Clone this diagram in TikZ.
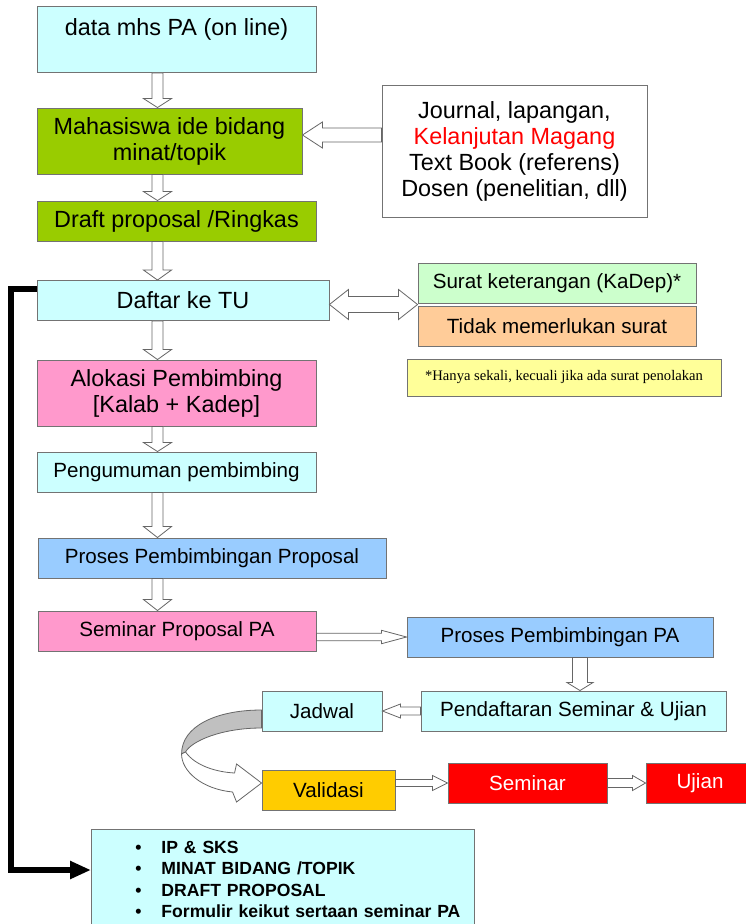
\documentclass[tikz,border=0pt]{standalone}
\usepackage{fontspec}
\setmainfont{Liberation Sans}
\newfontfamily\notefont{Liberation Serif}
\usetikzlibrary{calc,arrows.meta}

\definecolor{cyanmuda}{HTML}{CCFFFF}
\definecolor{hijau}{HTML}{99CC00}
\definecolor{merahmuda}{HTML}{FF99CC}
\definecolor{birumuda}{HTML}{99CCFF}
\definecolor{hijaumuda}{HTML}{CCFFCC}
\definecolor{oranyemuda}{HTML}{FFCC99}
\definecolor{kuningmuda}{HTML}{FFFF99}
\definecolor{emas}{HTML}{FFCC00}
\definecolor{abuabu}{HTML}{C0C0C0}

\newcommand{\butir}[1]{\hspace*{44pt}\makebox[26pt][l]{\textbullet}#1}

\newcommand{\panahv}[5]{%
  \draw[blok] let \p1=(#1), \p2=(#2) in
    (\x1-#3,\y1) -- (\x1-#3,\y2+#5) -- (\x1-#4,\y2+#5) -- (\x1,\y2)
    -- (\x1+#4,\y2+#5) -- (\x1+#3,\y2+#5) -- (\x1+#3,\y1) -- cycle;}

\newcommand{\panahh}[5]{%
  \draw[blok] let \p1=(#1), \p2=(#2) in
    (\x1,\y1-#3) -- ({\x2-(#5)},\y1-#3) -- ({\x2-(#5)},\y1-#4) -- (\x2,\y1)
    -- ({\x2-(#5)},\y1+#4) -- ({\x2-(#5)},\y1+#3) -- (\x1,\y1+#3) -- cycle;}

\begin{document}
\begin{tikzpicture}[x=1pt, y=-1pt,
    kotak/.style={draw=black!55, line width=0.9pt, inner sep=0pt, minimum height=40pt, align=center},
    besar/.style={font=\fontsize{23.4}{26}\selectfont},
    sedang/.style={font=\fontsize{20.6}{23}\selectfont},
    blok/.style={draw=black!60, fill=white, line width=0.8pt, line join=miter},
    jalur/.style={line width=5.5pt, -{Triangle[length=21pt,width=17pt]}}]
    \useasboundingbox (0,0) rectangle (746,924);

    \node[kotak, besar, fill=cyanmuda, minimum width=279pt, text height=29pt, text depth=37pt, anchor=north] (data) at (176.5,6) {data mhs PA (on line)};
    \node[kotak, besar, fill=hijau, minimum width=265pt, minimum height=66pt] (mhs) at (169.5,141) {Mahasiswa ide bidang\\minat/topik};
    \node[kotak, besar, fill=hijau, minimum width=279pt] (draft) at (176.5,221) {Draft proposal /Ringkas};
    \node[kotak, besar, fill=cyanmuda, minimum width=292pt] (daftar) at (183,300.5) {Daftar ke TU};
    \node[kotak, besar, fill=merahmuda, minimum width=279pt, minimum height=66pt] (alokasi) at (176.5,393) {Alokasi Pembimbing\\{[}Kalab + Kadep]};
    \node[kotak, sedang, fill=cyanmuda, minimum width=279pt] (umum) at (176.5,472) {Pengumuman pembimbing};
    \node[kotak, sedang, fill=birumuda, minimum width=348pt] (prosesprop) at (212,558) {Proses Pembimbingan Proposal};
    \node[kotak, sedang, fill=merahmuda, minimum width=278pt] (semprop) at (177,631) {Seminar Proposal PA};

    \node[kotak, besar, fill=white, minimum width=265pt, minimum height=132pt] (sumber) at (514.5,151) {Journal, lapangan,\\\textcolor{red}{Kelanjutan Magang}\\Text Book (referens)\\Dosen (penelitian, dll)};
    \node[kotak, sedang, fill=hijaumuda, minimum width=278pt] (surat) at (557,283) {Surat keterangan (KaDep)*};
    \node[kotak, sedang, fill=oranyemuda, minimum width=278pt] (tidak) at (557,326) {Tidak memerlukan surat};
    \node[kotak, fill=kuningmuda, minimum width=314pt, minimum height=37pt, font=\notefont\fontsize{14.6}{17}\selectfont] (catatan) at (564,377.5) {*Hanya sekali, kecuali jika ada surat penolakan};
    \node[kotak, sedang, fill=birumuda, minimum width=306pt] (prosespa) at (560,637) {Proses Pembimbingan PA};
    \node[kotak, sedang, fill=cyanmuda, minimum width=305pt] (daftarujian) at (573.5,711) {Pendaftaran Seminar \& Ujian};
    \node[kotak, sedang, fill=cyanmuda, minimum width=120pt] (jadwal) at (322,711) {Jadwal};
    \node[kotak, sedang, fill=emas, minimum width=133pt] (validasi) at (328.5,790) {Validasi};
    \node[kotak, sedang, fill=red, text=white, minimum width=159pt] (seminar) at (527.5,783) {Seminar};
    \node[kotak, sedang, fill=red, text=white, minimum width=108pt] (ujian) at (700,783) {Ujian};

    \node[kotak, fill=cyanmuda, anchor=north west, text width=383pt, align=left, text height=24pt, text depth=73pt, font=\fontsize{17.6}{21.3}\selectfont\bfseries] (syarat) at (91,829) {\butir{IP \& SKS}\\\butir{MINAT BIDANG /TOPIK}\\\butir{DRAFT PROPOSAL}\\\butir{Formulir keikut sertaan seminar PA}};

    \coordinate (spine) at (157.5,0);
    \panahv{data.south -| spine}{mhs.north -| spine}{5.5pt}{14pt}{9pt}
    \panahv{mhs.south -| spine}{draft.north -| spine}{5.5pt}{14pt}{9pt}
    \panahv{draft.south -| spine}{daftar.north -| spine}{5.5pt}{14pt}{10pt}
    \panahv{daftar.south -| spine}{alokasi.north -| spine}{5.5pt}{14pt}{10pt}
    \panahv{alokasi.south -| spine}{umum.north -| spine}{5.5pt}{14pt}{9pt}
    \panahv{umum.south -| spine}{prosesprop.north -| spine}{5.5pt}{14pt}{11pt}
    \panahv{prosesprop.south -| spine}{semprop.north -| spine}{5.5pt}{14pt}{11pt}

    \coordinate (turun) at (580,0);
    \panahv{prosespa.south -| turun}{daftarujian.north -| turun}{7.5pt}{13pt}{8pt}

    \coordinate (ideTip) at ($(mhs.east)+(0,-6)$);
    \panahh{sumber.west |- ideTip}{ideTip}{7pt}{13pt}{-20pt}
    \panahh{semprop.east |- prosespa.west}{prosespa.west}{3.7pt}{6.7pt}{25pt}
    \panahh{daftarujian.west}{jadwal.east}{4pt}{7pt}{-18pt}
    \panahh{validasi.east |- seminar.west}{seminar.west}{3.5pt}{7.5pt}{15pt}
    \panahh{seminar.east}{ujian.west}{4.5pt}{7.5pt}{13pt}

    \coordinate (simpul) at ($(surat.south west)!0.5!(tidak.north west)$);
    \draw[blok] let \p1=(daftar.east |- simpul), \p2=(simpul) in
        (\x1,\y1) -- (\x1+19pt,\y1+15pt) -- (\x1+19pt,\y1+8pt) -- (\x2-19pt,\y1+8pt)
        -- (\x2-19pt,\y1+15pt) -- (\x2,\y1) -- (\x2-19pt,\y1-15pt) -- (\x2-19pt,\y1-8pt)
        -- (\x1+19pt,\y1-8pt) -- (\x1+19pt,\y1-15pt) -- cycle;

    \begin{scope}[shift={(jadwal.west)}]
        \draw[blok, fill=abuabu] (0,-1) .. controls (-45,-1) and (-80,15) .. (-80,43)
            -- (-76,41) .. controls (-70,30) and (-40,17) .. (0,17) -- cycle;
        \draw[blok] (-80,43) .. controls (-80,60) and (-60,78) .. (-29,81)
            -- (-25,91) -- (0,72) -- (-25,53) -- (-27,62)
            .. controls (-45,61) and (-66,55) .. (-76,41) -- cycle;
    \end{scope}

    \coordinate (tuKiri) at ($(daftar.north west)+(0,9)$);
    \coordinate (syaratKiri) at ($(syarat.north west)+(0,41)$);
    \draw[jalur] (tuKiri) -- ++(-25.5,0) |- (syaratKiri);
\end{tikzpicture}
\end{document}
